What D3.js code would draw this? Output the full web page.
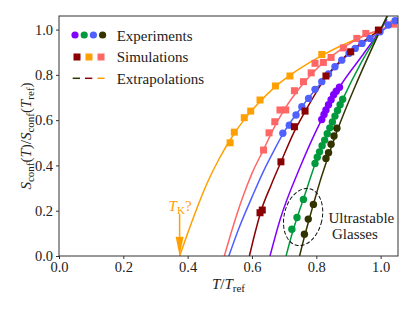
<!DOCTYPE html>
<html>
<head>
<meta charset="utf-8">
<script src="https://cdn.jsdelivr.net/npm/d3@7"></script>
<style>
  body { margin: 0; background: #fff; }
  text { font-family: "Liberation Serif", "Times New Roman", serif; fill: #222; }
</style>
</head>
<body>
<div id="chart"></div>
<script>
// ---- data (T/Tref, Sconf/Sconf(Tref)) ----
var xTicks = [0.0, 0.2, 0.4, 0.6, 0.8, 1.0];
var yTicks = [0.0, 0.2, 0.4, 0.6, 0.8, 1.0];

// simulations (squares)
var orangeSim = [[0.532,0.500],[0.545,0.547],[0.576,0.611],[0.596,0.640],[0.625,0.689],[0.673,0.751],[0.718,0.795],[0.817,0.890]];
var salmonSim = [[0.636,0.468],[0.653,0.544],[0.671,0.593],[0.687,0.645],[0.705,0.645],[0.732,0.730],[0.760,0.770],[0.784,0.809],[0.796,0.851],[0.822,0.855],[0.846,0.877],[0.884,0.919],[0.926,0.961],[0.954,0.983],[1.040,1.024]];
var darkredSim = [[0.625,0.191],[0.632,0.203],[0.690,0.416],[0.732,0.571],[0.765,0.640],[0.830,0.795],[0.907,0.902],[0.993,0.998]];

// experiments (circles)
var blueExp = [[0.696,0.542],[0.716,0.578],[0.737,0.623],[0.755,0.659],[0.776,0.696],[0.796,0.736],[0.817,0.770],[0.838,0.804],[0.858,0.836],[0.879,0.865],[0.902,0.895],[0.921,0.917],[0.942,0.939],[0.967,0.961],[0.998,0.990],[1.024,1.020],[1.045,1.039]];
var purpleExp = [[0.817,0.603],[0.824,0.625],[0.830,0.645],[0.838,0.668],[0.846,0.690],[0.854,0.712],[0.862,0.728],[0.872,0.745]];
var greenExp = [[0.724,0.118],[0.740,0.170],[0.760,0.250],[0.796,0.409],[0.803,0.436],[0.810,0.460],[0.818,0.487],[0.826,0.512],[0.834,0.540],[0.842,0.566],[0.850,0.592],[0.858,0.618],[0.866,0.643],[0.874,0.668],[0.882,0.692]];
var blackExp = [[0.763,0.096],[0.775,0.163],[0.791,0.228],[0.830,0.431],[0.838,0.456],[0.846,0.494],[0.855,0.530],[0.864,0.564]];

// fitted / extrapolated curves
var orangeFit = [[0.375,0],[0.40,0.10],[0.43,0.215],[0.46,0.32],[0.50,0.435],[0.54,0.53],[0.58,0.61],[0.62,0.675],[0.67,0.745],[0.72,0.80],[0.78,0.855],[0.85,0.91],[0.92,0.955],[1.0,1.0]];
var salmonFit = [[0.514,0],[0.54,0.125],[0.57,0.255],[0.60,0.365],[0.636,0.47],[0.67,0.57],[0.70,0.645],[0.75,0.745],[0.80,0.825],[0.85,0.885],[0.90,0.935],[0.95,0.975],[1.0,1.0],[1.04,1.025]];
var blueFit = [[0.528,0],[0.56,0.125],[0.60,0.26],[0.636,0.375],[0.67,0.47],[0.70,0.548],[0.75,0.65],[0.80,0.74],[0.85,0.82],[0.90,0.89],[0.95,0.945],[1.0,0.99],[1.045,1.035]];
var darkredFit = [[0.592,0],[0.61,0.105],[0.628,0.198],[0.66,0.315],[0.69,0.415],[0.73,0.545],[0.77,0.65],[0.83,0.79],[0.90,0.895],[1.0,1.0]];
var purpleFit = [[0.656,0],[0.687,0.159],[0.75,0.394],[0.815,0.598],[0.872,0.745],[0.94,0.88],[1.0,1.0],[1.02,1.045]];
var greenFit = [[0.706,0],[0.724,0.095],[0.740,0.168],[0.760,0.252],[0.796,0.405],[0.882,0.692],[0.94,0.855],[1.0,1.0],[1.025,1.07]];
var blackFit = [[0.748,0],[0.763,0.085],[0.775,0.148],[0.791,0.228],[0.81,0.322],[0.83,0.41],[0.864,0.55],[0.93,0.78],[1.0,1.0],[1.025,1.075]];

var tK = 0.375;
var glassCenter = [0.759, 0.172];

var W = 415, H = 311;
var margin = { left: 59, right: 17, top: 16, bottom: 55 };

var x = d3.scaleLinear().domain([0, 1.054]).range([margin.left, W - margin.right]);
var y = d3.scaleLinear().domain([0, 1.06]).range([H - margin.bottom, margin.top]);

var svg = d3.select('#chart').append('svg')
    .attr('width', W)
    .attr('height', H)
    .attr('viewBox', '0 0 ' + W + ' ' + H);

svg.append('defs').append('clipPath').attr('id', 'plotclip')
    .append('rect')
    .attr('x', margin.left).attr('y', margin.top)
    .attr('width', W - margin.left - margin.right)
    .attr('height', H - margin.top - margin.bottom);

var plot = svg.append('g').attr('clip-path', 'url(#plotclip)');

var line = d3.line()
    .x(function (d) { return x(d[0]); })
    .y(function (d) { return y(d[1]); })
    .curve(d3.curveMonotoneX);

var colors = {
    purple: '#8000ff',
    green: '#009a3c',
    blue: '#5060ff',
    black: '#333300',
    darkred: '#8b0000',
    orange: '#ffa000',
    salmon: '#ff6666'
};

var fits = [
    [orangeFit, colors.orange],
    [salmonFit, colors.salmon],
    [blueFit, colors.blue],
    [darkredFit, colors.darkred],
    [purpleFit, colors.purple],
    [greenFit, colors.green],
    [blackFit, colors.black]
];

fits.forEach(function (f) {
    plot.append('path')
        .datum(f[0])
        .attr('d', line)
        .attr('fill', 'none')
        .attr('stroke', f[1])
        .attr('stroke-width', 1.5);
});

var sq = 7;
function squares(data, color) {
    plot.append('g').selectAll('rect')
        .data(data)
        .enter().append('rect')
        .attr('x', function (d) { return x(d[0]) - sq / 2; })
        .attr('y', function (d) { return y(d[1]) - sq / 2; })
        .attr('width', sq).attr('height', sq)
        .attr('fill', color);
}
function circles(data, color) {
    plot.append('g').selectAll('circle')
        .data(data)
        .enter().append('circle')
        .attr('cx', function (d) { return x(d[0]); })
        .attr('cy', function (d) { return y(d[1]); })
        .attr('r', 3.7)
        .attr('fill', color);
}

squares(orangeSim, colors.orange);
squares(salmonSim, colors.salmon);
circles(blueExp, colors.blue);
squares(darkredSim, colors.darkred);
circles(purpleExp, colors.purple);
circles(greenExp, colors.green);
circles(blackExp, colors.black);

// ultrastable glasses ellipse
svg.append('ellipse')
    .attr('transform', 'translate(' + x(glassCenter[0]) + ',' + y(glassCenter[1]) + ') rotate(13)')
    .attr('rx', 19).attr('ry', 29)
    .attr('fill', 'none')
    .attr('stroke', '#111')
    .attr('stroke-width', 1)
    .attr('stroke-dasharray', '4,2');

var ut = svg.append('text')
    .attr('text-anchor', 'middle')
    .style('font-size', '15px');
ut.append('tspan').attr('x', x(0.94)).attr('y', y(0.145)).text('Ultrastable');
ut.append('tspan').attr('x', x(0.92)).attr('y', y(0.075)).text('Glasses');

// T_K? arrow
svg.append('line')
    .attr('x1', x(tK)).attr('x2', x(tK))
    .attr('y1', y(0.185)).attr('y2', y(0.085))
    .attr('stroke', colors.orange)
    .attr('stroke-width', 1.5);
svg.append('path')
    .attr('d', 'M' + (x(tK) - 4) + ',' + y(0.085) + 'L' + (x(tK) + 4) + ',' + y(0.085) + 'L' + x(tK) + ',' + y(0) + 'Z')
    .attr('fill', colors.orange);
var tk = svg.append('text')
    .attr('x', x(tK) - 11)
    .attr('y', y(0.2))
    .style('font-size', '15px')
    .style('fill', colors.orange);
tk.append('tspan').style('font-style', 'italic').style('fill', colors.orange).text('T');
tk.append('tspan').attr('dy', 3).style('font-size', '11px').style('fill', colors.orange).text('K');
tk.append('tspan').attr('dy', -3).style('fill', colors.orange).text('?');

// axes frame
var x0 = margin.left, x1 = W - margin.right, y0 = H - margin.bottom, y1 = margin.top;
svg.append('rect')
    .attr('x', x0).attr('y', y1)
    .attr('width', x1 - x0).attr('height', y0 - y1)
    .attr('fill', 'none')
    .attr('stroke', '#333')
    .attr('stroke-width', 1);

var xAxis = svg.append('g')
    .attr('transform', 'translate(0,' + y0 + ')')
    .call(d3.axisBottom(x).tickValues(xTicks).tickFormat(d3.format('.1f')).tickSize(3).tickPadding(3));
var yAxis = svg.append('g')
    .attr('transform', 'translate(' + x0 + ',0)')
    .call(d3.axisLeft(y).tickValues(yTicks).tickFormat(d3.format('.1f')).tickSize(3).tickPadding(3));
[xAxis, yAxis].forEach(function (a) {
    a.select('.domain').remove();
    a.selectAll('line').attr('stroke', '#333');
    a.selectAll('text')
        .style('font-family', '"Liberation Serif", serif')
        .style('font-size', '14.5px')
        .attr('fill', '#333');
});

// axis labels
var xl = svg.append('text')
    .attr('x', (x0 + x1) / 2)
    .attr('y', 289)
    .attr('text-anchor', 'middle')
    .style('font-size', '15px');
xl.append('tspan').style('font-style', 'italic').text('T');
xl.append('tspan').text('/');
xl.append('tspan').style('font-style', 'italic').text('T');
xl.append('tspan').attr('dy', 3).style('font-size', '11px').text('ref');

var yl = svg.append('text')
    .attr('transform', 'translate(31,' + ((y0 + y1) / 2) + ') rotate(-90)')
    .attr('text-anchor', 'middle')
    .style('font-size', '15px');
yl.append('tspan').style('font-style', 'italic').text('S');
yl.append('tspan').attr('dy', 3).style('font-size', '11px').text('conf');
yl.append('tspan').attr('dy', -3).text('(');
yl.append('tspan').style('font-style', 'italic').text('T');
yl.append('tspan').text(')/');
yl.append('tspan').style('font-style', 'italic').text('S');
yl.append('tspan').attr('dy', 3).style('font-size', '11px').text('conf');
yl.append('tspan').attr('dy', -3).text('(');
yl.append('tspan').style('font-style', 'italic').text('T');
yl.append('tspan').attr('dy', 3).style('font-size', '11px').text('ref');
yl.append('tspan').attr('dy', -3).text(')');

// legend
var leg = svg.append('g');
[colors.purple, colors.green, colors.blue, colors.black].forEach(function (c, i) {
    leg.append('circle').attr('cx', 75 + i * 9.2).attr('cy', 35).attr('r', 3.6).attr('fill', c);
});
[colors.darkred, colors.orange, colors.salmon].forEach(function (c, i) {
    leg.append('rect').attr('x', 73.5 + i * 12).attr('y', 53.5).attr('width', 7).attr('height', 7).attr('fill', c);
});
[colors.black, colors.darkred, colors.orange].forEach(function (c, i) {
    leg.append('line')
        .attr('x1', 72.7 + i * 12.3).attr('x2', 80 + i * 12.3)
        .attr('y1', 78.3).attr('y2', 78.3)
        .attr('stroke', c).attr('stroke-width', 1.5);
});
['Experiments', 'Simulations', 'Extrapolations'].forEach(function (t, i) {
    leg.append('text')
        .attr('x', 116.7)
        .attr('y', 41 + i * 21.3)
        .style('font-size', '15px')
        .text(t);
});
</script>
</body>
</html>
